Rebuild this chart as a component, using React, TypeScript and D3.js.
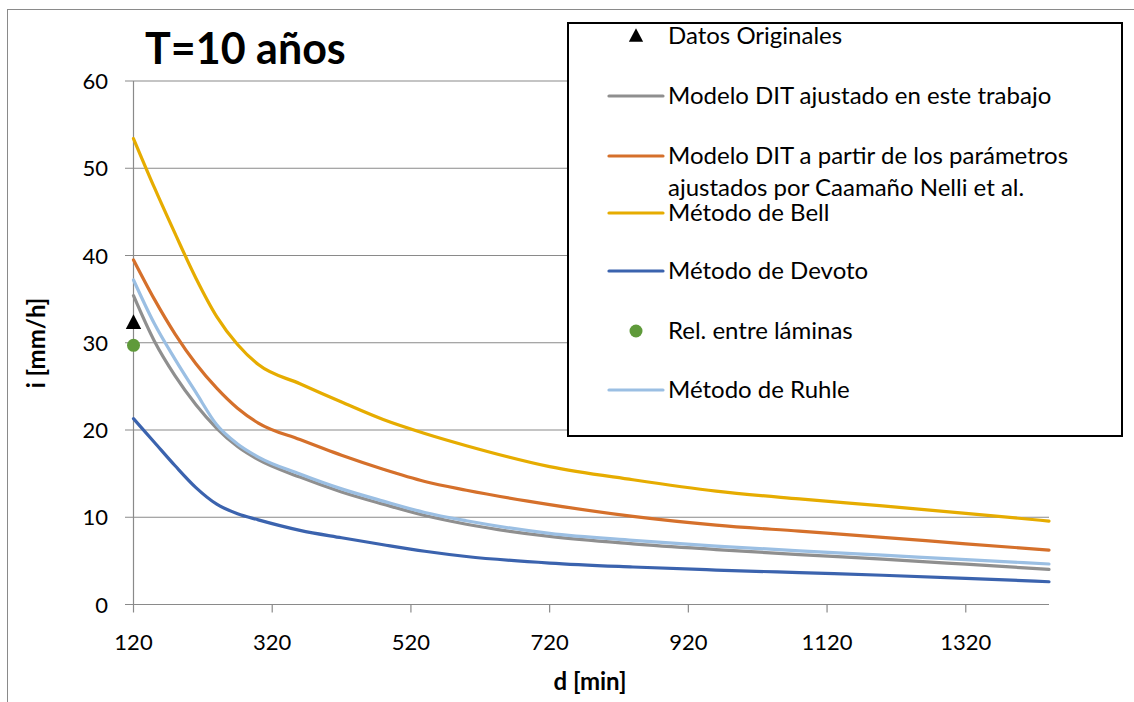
import React from "react";
import * as d3 from "d3";

const durations = [120, 150, 180, 210, 240, 270, 300, 360, 420, 480, 540, 600, 720, 840, 960, 1080, 1200, 1320, 1440];
const ditFitted = [35.4, 30.2, 26.2, 22.9, 20.2, 18.1, 16.6, 14.6, 12.9, 11.5, 10.2, 9.2, 7.8, 6.95, 6.3, 5.72, 5.2, 4.62, 4.03];
const ditCaamano = [39.5, 35.0, 31.0, 27.6, 24.8, 22.5, 20.8, 18.9, 17.1, 15.5, 14.1, 13.1, 11.45, 10.1, 9.1, 8.4, 7.7, 6.95, 6.24];
const bell = [53.4, 47.8, 42.5, 37.4, 33.0, 29.8, 27.5, 25.3, 23.2, 21.2, 19.6, 18.2, 15.8, 14.3, 13.0, 12.1, 11.3, 10.45, 9.56];
const devoto = [21.3, 18.6, 15.9, 13.4, 11.5, 10.4, 9.7, 8.5, 7.65, 6.85, 6.1, 5.5, 4.75, 4.3, 3.95, 3.65, 3.35, 3.0, 2.61];
const ruhle = [37.2, 32.2, 28.1, 24.3, 20.6, 18.4, 16.9, 14.95, 13.25, 11.85, 10.55, 9.6, 8.15, 7.35, 6.7, 6.15, 5.65, 5.15, 4.64];
const originalD = [120];
const originalI = [32.3];
const laminasD = [120];
const laminasI = [29.7];

const xTicks = [120, 320, 520, 720, 920, 1120, 1320];
const yTicks = [0, 10, 20, 30, 40, 50, 60];

const lineSeries = [
  { name: "Modelo DIT ajustado en este trabajo", values: ditFitted, color: "#8f8f8f" },
  { name: "Modelo DIT a partir de los parámetros ajustados por Caamaño Nelli et al.", values: ditCaamano, color: "#d5702b" },
  { name: "Método de Bell", values: bell, color: "#e6ac00" },
  { name: "Método de Devoto", values: devoto, color: "#3b63ae" },
  { name: "Método de Ruhle", values: ruhle, color: "#9bbfe3" },
];

const FONT = "Lato, 'Open Sans', sans-serif";

export default function App() {
  const W = 1134, H = 702;
  const x = d3.scaleLinear().domain([120, 1440]).range([133.5, 1049]);
  const y = d3.scaleLinear().domain([0, 60]).range([604.5, 81]);
  const line = d3
    .line<number>()
    .x((_, i) => x(durations[i]))
    .y((v) => y(v))
    .curve(d3.curveMonotoneX);

  const legendRows = [
    { kind: "tri", label: ["Datos Originales"], y: 36 },
    { kind: "line", color: lineSeries[0].color, label: ["Modelo DIT ajustado en este trabajo"], y: 96 },
    { kind: "line", color: lineSeries[1].color, label: ["Modelo DIT a partir de los parámetros", "ajustados por Caamaño Nelli et al."], y: 156 },
    { kind: "line", color: lineSeries[2].color, label: ["Método de Bell"], y: 213 },
    { kind: "line", color: lineSeries[3].color, label: ["Método de Devoto"], y: 271 },
    { kind: "dot", label: ["Rel. entre láminas"], y: 331 },
    { kind: "line", color: lineSeries[4].color, label: ["Método de Ruhle"], y: 390 },
  ];

  const tri = (cx: number, cy: number, s: number) =>
    `M${cx},${cy - s * 0.6}L${cx + s * 0.55},${cy + s * 0.45}L${cx - s * 0.55},${cy + s * 0.45}Z`;

  return (
    <svg width={W} height={H} style={{ position: "absolute", left: 0, top: 0, display: "block", background: "#fff" }} fontFamily={FONT}>
      <rect x={7.5} y={9.5} width={1140} height={700} fill="#fff" stroke="#8a8a8a" strokeWidth={1} />
      {yTicks.map((t) => (
        <line key={"g" + t} x1={125} x2={1049} y1={y(t)} y2={y(t)} stroke="#8a8a8a" strokeWidth={1.2} />
      ))}
      <line x1={x(120)} x2={x(120)} y1={y(60)} y2={y(0)} stroke="#8a8a8a" strokeWidth={1.2} />
      {xTicks.map((t) => (
        <line key={"xt" + t} x1={x(t)} x2={x(t)} y1={y(0)} y2={y(0) + 8} stroke="#8a8a8a" strokeWidth={1.2} />
      ))}
      {yTicks.map((t) => (
        <text key={"yl" + t} x={108} y={y(t) + 8} textAnchor="end" fontSize={22} fill="#000">
          {t}
        </text>
      ))}
      {xTicks.map((t) => (
        <text key={"xl" + t} x={x(t)} y={650} textAnchor="middle" fontSize={22} fill="#000">
          {t}
        </text>
      ))}
      <text x={590} y={690} textAnchor="middle" fontSize={24} fontWeight="bold">
        d [min]
      </text>
      <text transform="translate(45,343) rotate(-90)" textAnchor="middle" fontSize={24} fontWeight="bold">
        i [mm/h]
      </text>
      <text x={145} y={64} fontSize={43} fontWeight="bold">
        T=10 años
      </text>
      {lineSeries.map((s) => (
        <path key={s.name} d={line(s.values) || ""} fill="none" stroke={s.color} strokeWidth={3.2} strokeLinecap="round" />
      ))}
      {originalD.map((d, i) => (
        <path key={"o" + i} d={tri(x(d), y(originalI[i]), 14)} fill="#000" />
      ))}
      {laminasD.map((d, i) => (
        <circle key={"l" + i} cx={x(d)} cy={y(laminasI[i])} r={6.5} fill="#5f9a3a" />
      ))}
      <rect x={568} y={23} width={554} height={413} fill="#fff" stroke="#000" strokeWidth={2} />
      {legendRows.map((r, i) => (
        <g key={"lg" + i}>
          {r.kind === "line" && (
            <line x1={609} x2={663} y1={r.y} y2={r.y} stroke={r.color} strokeWidth={3.2} strokeLinecap="round" />
          )}
          {r.kind === "tri" && <path d={tri(636, r.y, 13)} fill="#000" />}
          {r.kind === "dot" && <circle cx={636} cy={r.y} r={6.5} fill="#5f9a3a" />}
          {r.label.map((t, j) => (
            <text key={j} x={668} y={r.y + 8 + j * 32} fontSize={24} fill="#000">
              {t}
            </text>
          ))}
        </g>
      ))}
    </svg>
  );
}
